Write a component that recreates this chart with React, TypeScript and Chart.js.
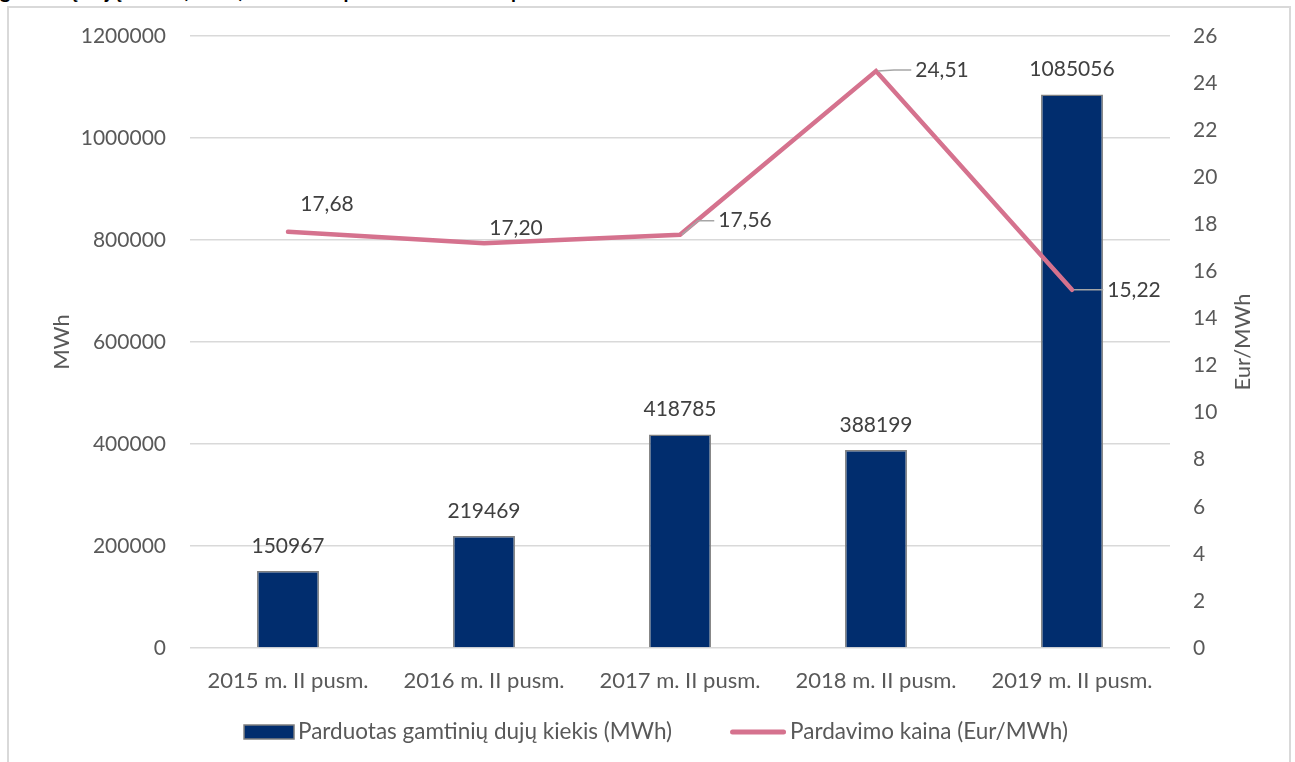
import React, { useEffect, useRef } from "react";
import { Chart, registerables } from "chart.js";

Chart.register(...registerables);

const categories = [
  "2015 m. II pusm.",
  "2016 m. II pusm.",
  "2017 m. II pusm.",
  "2018 m. II pusm.",
  "2019 m. II pusm.",
];
const volumeMWh = [150967, 219469, 418785, 388199, 1085056];
const priceEur = [17.68, 17.2, 17.56, 24.51, 15.22];
const seriesNames = [
  "Parduotas gamtinių dujų kiekis (MWh)",
  "Pardavimo kaina (Eur/MWh)",
];
const leftAxisTitle = "MWh";
const rightAxisTitle = "Eur/MWh";

const FONT = "Lato, 'Open Sans', sans-serif";
const FS = 21;
const TEXT = "#595959";
const LABEL = "#404040";
const GRID = "#d9d9d9";
const BAR = "#012d6e";
const LINE = "#d5728e";

// label placement for the price series: [dx, dy, leader?]
const priceLabelPos: [number, number, boolean][] = [
  [39, -28, false],
  [32, -15, false],
  [65, -14, true],
  [66, -1, true],
  [62, 0, true],
];

const labelPlugin = {
  id: "labels",
  afterDatasetsDraw(chart: any) {
    const ctx = chart.ctx;
    ctx.save();
    ctx.font = `${FS}px ${FONT}`;
    ctx.fillStyle = LABEL;
    ctx.textAlign = "center";
    ctx.textBaseline = "middle";
    const barMeta = chart.getDatasetMeta(0);
    barMeta.data.forEach((el: any, i: number) => {
      ctx.fillText(String(volumeMWh[i]), el.x, el.y - 25);
    });
    const lineMeta = chart.getDatasetMeta(1);
    lineMeta.data.forEach((el: any, i: number) => {
      const [dx, dy, leader] = priceLabelPos[i];
      const text = priceEur[i].toFixed(2).replace(".", ",");
      const tw = ctx.measureText(text).width;
      const lx = el.x + dx;
      const ly = el.y + dy;
      if (leader) {
        ctx.strokeStyle = "#a6a6a6";
        ctx.lineWidth = 1.5;
        ctx.beginPath();
        const endX = lx - tw / 2 - 4;
        const midX = dy === 0 ? el.x + 2 : el.x + Math.min(18, endX - el.x - 10);
        ctx.moveTo(el.x + 2, el.y);
        ctx.lineTo(midX, ly);
        ctx.lineTo(endX, ly);
        ctx.stroke();
      }
      ctx.fillStyle = LABEL;
      ctx.fillText(text, lx, ly);
    });
    // right axis title (reads bottom to top)
    const ca = chart.chartArea;
    ctx.fillStyle = TEXT;
    ctx.font = `22px ${FONT}`;
    ctx.translate(1234, (ca.top + ca.bottom) / 2);
    ctx.rotate(-Math.PI / 2);
    ctx.fillText(rightAxisTitle, 0, 0);
    ctx.restore();
  },
  afterDraw(chart: any) {
    // legend
    const ctx = chart.ctx;
    ctx.save();
    const lf = 22.5;
    ctx.font = `${lf}px ${FONT}`;
    ctx.textBaseline = "middle";
    ctx.textAlign = "left";
    const boxW = 50;
    const lineW = 56;
    const gapText = 4;
    const gapItems = 58;
    const t0 = ctx.measureText(seriesNames[0]).width;
    const t1 = ctx.measureText(seriesNames[1]).width;
    const total = boxW + gapText + t0 + gapItems + lineW + gapText + t1;
    const cy = 724;
    let x = 647 - total / 2;
    ctx.fillStyle = BAR;
    ctx.fillRect(x, cy - 7, boxW, 14);
    ctx.strokeStyle = "#7f7f7f";
    ctx.lineWidth = 1.5;
    ctx.strokeRect(x, cy - 7, boxW, 14);
    x += boxW + gapText;
    ctx.fillStyle = TEXT;
    ctx.fillText(seriesNames[0], x, cy);
    x += t0 + gapItems;
    ctx.strokeStyle = LINE;
    ctx.lineWidth = 5;
    ctx.lineCap = "round";
    ctx.beginPath();
    ctx.moveTo(x + 2.5, cy);
    ctx.lineTo(x + lineW - 2.5, cy);
    ctx.stroke();
    x += lineW + gapText;
    ctx.fillStyle = TEXT;
    ctx.fillText(seriesNames[1], x, cy);
    ctx.restore();
  },
};

export default function App() {
  const ref = useRef<HTMLCanvasElement>(null);
  useEffect(() => {
    document.body.style.overflow = "hidden";
    const chart = new Chart(ref.current!, {
      type: "bar",
      data: {
        labels: categories,
        datasets: [
          {
            type: "bar",
            label: seriesNames[0],
            data: volumeMWh,
            backgroundColor: BAR,
            borderColor: "#7f7f7f",
            borderWidth: 1.5,
            yAxisID: "y",
            order: 1,
            categoryPercentage: 1,
            barPercentage: 0.316,
          } as any,
          {
            type: "line",
            label: seriesNames[1],
            data: priceEur,
            borderColor: LINE,
            backgroundColor: LINE,
            borderWidth: 4.5,
            borderCapStyle: "round",
            pointRadius: 0,
            yAxisID: "y1",
            order: 0,
          } as any,
        ],
      },
      options: {
        animation: false,
        responsive: false,
        maintainAspectRatio: false,
        layout: { padding: { top: 28, left: 0, right: 0, bottom: 64 } },
        plugins: {
          tooltip: { enabled: false },
          legend: { display: false },
        },
        scales: {
          x: {
            grid: { display: false },
            border: { display: false },
            ticks: {
              color: TEXT,
              font: { family: FONT, size: 22 },
              padding: 12,
              maxRotation: 0,
            },
            afterFit: (s: any) => {
              s.height = 50;
            },
          },
          y: {
            position: "left",
            min: 0,
            max: 1200000,
            grid: { color: GRID, lineWidth: 1.5, drawTicks: false },
            border: { display: false },
            ticks: {
              stepSize: 200000,
              color: TEXT,
              padding: 24,
              font: { family: FONT, size: FS },
              callback: (v: any) => String(v),
            },
            title: {
              display: true,
              text: leftAxisTitle,
              color: TEXT,
              font: { family: FONT, size: 22 },
              padding: { top: 40, bottom: 0 },
            },
            afterFit: (s: any) => {
              s.width = 181;
              s.paddingTop = 0;
              s.paddingBottom = 0;
            },
          },
          y1: {
            position: "right",
            min: 0,
            max: 26,
            grid: { display: false, drawTicks: false },
            border: { display: false },
            ticks: {
              stepSize: 2,
              color: TEXT,
              padding: 23,
              font: { family: FONT, size: FS },
            },
            afterFit: (s: any) => {
              s.width = 119;
              s.paddingTop = 0;
              s.paddingBottom = 0;
            },
          },
        },
      },
      plugins: [labelPlugin],
    });
    return () => chart.destroy();
  }, []);

  return (
    <div>
      <div
        style={{
          position: "absolute",
          left: 0,
          top: -22,
          whiteSpace: "nowrap",
          font: `bold 20px ${FONT}`,
          color: "#000",
        }}
      >
        gamtinių dujų kiekis (MWh) ir vidutinė pardavimo kaina II pusmečiais
      </div>
      <div
        style={{
          position: "absolute",
          left: 7,
          top: 6,
          width: 1280,
          height: 756,
          borderLeft: "2px solid #d9d9d9",
          borderRight: "2px solid #d9d9d9",
          borderTop: "2px solid #d9d9d9",
          background: "#fff",
        }}
      >
        <canvas ref={ref} width={1280} height={754} style={{ display: "block" }} />
      </div>
    </div>
  );
}
